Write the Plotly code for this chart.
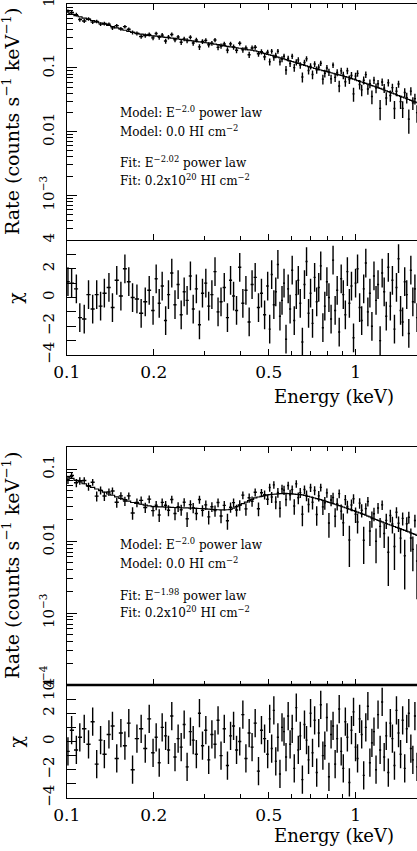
import numpy as np
import plotly.graph_objects as go

# ---------------- data ----------------
energy_kev = [
    0.101, 0.104, 0.108, 0.111, 0.115, 0.119, 0.123, 0.127, 0.131, 0.135,
    0.140, 0.144, 0.149, 0.154, 0.159, 0.164, 0.169, 0.175, 0.181, 0.187,
    0.193, 0.199, 0.204, 0.209, 0.214, 0.220, 0.225, 0.231, 0.237, 0.243,
    0.249, 0.255, 0.261, 0.268, 0.274, 0.281, 0.288, 0.295, 0.303, 0.310,
    0.318, 0.326, 0.334, 0.342, 0.351, 0.360, 0.369, 0.378, 0.387, 0.397,
    0.407, 0.417, 0.428, 0.438, 0.449, 0.461, 0.472, 0.484, 0.496, 0.504,
    0.512, 0.521, 0.529, 0.538, 0.547, 0.556, 0.565, 0.574, 0.584, 0.593,
    0.603, 0.613, 0.623, 0.633, 0.643, 0.654, 0.665, 0.676, 0.687, 0.698,
    0.709, 0.721, 0.733, 0.745, 0.757, 0.770, 0.782, 0.795, 0.808, 0.822,
    0.835, 0.849, 0.863, 0.877, 0.891, 0.906, 0.921, 0.936, 0.951, 0.967,
    0.983, 0.999, 1.015, 1.032, 1.049, 1.066, 1.084, 1.102, 1.120, 1.138,
    1.157, 1.176, 1.195, 1.215, 1.235, 1.255, 1.276, 1.297, 1.318, 1.340,
    1.362, 1.384, 1.407, 1.430, 1.454, 1.478, 1.502, 1.527, 1.552, 1.577,
    1.603, 1.630, 1.656, 1.684,
]

# top spectrum: model rate (counts s^-1 keV^-1), fractional 1-sigma error, chi residual
model_rate_1 = [
    0.720, 0.692, 0.658, 0.634, 0.604, 0.577, 0.551, 0.528, 0.506, 0.486,
    0.462, 0.445, 0.425, 0.407, 0.389, 0.374, 0.361, 0.349, 0.339, 0.330,
    0.323, 0.317, 0.314, 0.311, 0.307, 0.302, 0.298, 0.293, 0.288, 0.284,
    0.280, 0.276, 0.272, 0.268, 0.264, 0.260, 0.256, 0.253, 0.248, 0.244,
    0.239, 0.235, 0.231, 0.227, 0.223, 0.218, 0.214, 0.211, 0.207, 0.203,
    0.199, 0.196, 0.192, 0.189, 0.185, 0.179, 0.174, 0.169, 0.163, 0.160,
    0.1567, 0.1533, 0.1503, 0.1471, 0.1440, 0.1408, 0.1377, 0.1347, 0.1315, 0.1287,
    0.1258, 0.1229, 0.1202, 0.1175, 0.1150, 0.1123, 0.1097, 0.1073, 0.1049, 0.1026,
    0.1004, 0.0983, 0.0964, 0.0945, 0.0927, 0.0908, 0.0891, 0.0874, 0.0857, 0.0839,
    0.0823, 0.0807, 0.0791, 0.0776, 0.0761, 0.0746, 0.0731, 0.0716, 0.0699, 0.0681,
    0.0664, 0.0647, 0.0631, 0.0615, 0.0600, 0.0585, 0.0570, 0.0555, 0.0541, 0.0528,
    0.0515, 0.0502, 0.0489, 0.0476, 0.0463, 0.0450, 0.0437, 0.0425, 0.0413, 0.0401,
    0.0390, 0.0379, 0.0368, 0.0358, 0.0347, 0.0337, 0.0328, 0.0319, 0.0310, 0.0301,
    0.0292, 0.0284, 0.0276, 0.0268,
]
rel_err_1 = [
    0.070, 0.070, 0.068, 0.068, 0.066, 0.066, 0.065, 0.065, 0.065, 0.066,
    0.066, 0.067, 0.068, 0.069, 0.070, 0.071, 0.072, 0.073, 0.074, 0.075,
    0.076, 0.077, 0.078, 0.079, 0.080, 0.080, 0.081, 0.082, 0.083, 0.083,
    0.084, 0.085, 0.085, 0.086, 0.087, 0.087, 0.088, 0.089, 0.089, 0.090,
    0.090, 0.091, 0.091, 0.092, 0.092, 0.093, 0.093, 0.094, 0.094, 0.095,
    0.095, 0.096, 0.096, 0.097, 0.097, 0.098, 0.098, 0.099, 0.100, 0.100,
    0.101, 0.102, 0.103, 0.104, 0.105, 0.106, 0.107, 0.108, 0.109, 0.110,
    0.111, 0.112, 0.113, 0.114, 0.115, 0.116, 0.117, 0.118, 0.119, 0.120,
    0.121, 0.122, 0.123, 0.124, 0.125, 0.127, 0.128, 0.129, 0.130, 0.132,
    0.133, 0.134, 0.136, 0.137, 0.138, 0.140, 0.141, 0.143, 0.144, 0.146,
    0.147, 0.149, 0.150, 0.152, 0.154, 0.155, 0.157, 0.159, 0.161, 0.163,
    0.165, 0.167, 0.169, 0.171, 0.173, 0.175, 0.177, 0.179, 0.181, 0.184,
    0.186, 0.188, 0.191, 0.193, 0.196, 0.198, 0.201, 0.203, 0.206, 0.209,
    0.212, 0.215, 0.218, 0.221,
]
chi_1 = [
    1.1, 1.0, 0.6, -1.4, -1.5, 0.2, -0.8, 0.2, -0.6, 0.3,
    0.7, -0.7, 1.2, 0.1, 2.0, 1.1, 0.0, -0.1, -1.1, -0.3,
    0.5, -0.9, 1.3, -0.4, 0.8, -1.6, 0.2, 1.7, -0.5, 0.9,
    -1.2, 0.4, -0.2, 1.5, -0.8, 0.6, -1.9, 0.3, 1.0, -0.6,
    0.2, 1.8, -1.0, -0.3, 0.7, -1.4, 1.2, 0.1, -0.9, 2.1,
    -0.4, 0.5, -1.7, 0.9, 1.4, -0.7, 0.3, -1.2, 0.8, -2.2,
    1.6, -0.5, 0.4, 2.3, -1.3, -0.2, 1.0, -2.9, 0.6, -0.8,
    1.9, -1.6, 0.2, 1.2, -0.4, -3.1, 0.9, 2.5, -1.1, 0.3,
    -1.8, 1.4, -0.3, 0.7, 2.2, -2.1, -0.6, 1.1, 0.0, -1.5,
    2.6, -0.9, 0.5, -2.4, 1.3, 0.2, -1.2, 1.8, -0.4, 0.8,
    -2.8, 1.0, 2.0, -0.7, -1.6, 0.6, 2.4, -1.0, 0.3, -2.0,
    1.5, -0.2, 0.9, -3.0, 1.7, 0.4, -1.3, 2.1, -0.6, 1.2,
    -2.2, 0.7, 2.7, -0.9, -1.7, 1.1, 0.2, -2.5, 1.9, -0.3,
    0.6, -1.4, 2.2, -0.8,
]

# bottom spectrum
model_rate_2 = [
    0.0780, 0.0742, 0.0695, 0.0663, 0.0624, 0.0588, 0.0557, 0.0528, 0.0502, 0.0477,
    0.0450, 0.0432, 0.0411, 0.0392, 0.0375, 0.0358, 0.0343, 0.0333, 0.0324, 0.0316,
    0.0308, 0.0301, 0.0300, 0.0299, 0.0298, 0.0296, 0.0295, 0.0294, 0.0292, 0.0291,
    0.0290, 0.0289, 0.0288, 0.0287, 0.0286, 0.0284, 0.0283, 0.0281, 0.0280, 0.0278,
    0.0276, 0.0274, 0.0272, 0.0270, 0.0270, 0.0272, 0.0275, 0.0287, 0.0300, 0.0316,
    0.0331, 0.0346, 0.0364, 0.0380, 0.0398, 0.0409, 0.0418, 0.0427, 0.0437, 0.0441,
    0.0444, 0.0446, 0.0448, 0.0451, 0.0454, 0.0456, 0.0458, 0.0460, 0.0456, 0.0454,
    0.0451, 0.0448, 0.0445, 0.0443, 0.0441, 0.0437, 0.0430, 0.0422, 0.0416, 0.0409,
    0.0402, 0.0396, 0.0389, 0.0382, 0.0375, 0.0367, 0.0360, 0.0352, 0.0345, 0.0338,
    0.0331, 0.0324, 0.0317, 0.0310, 0.0304, 0.0297, 0.0290, 0.0284, 0.0277, 0.0270,
    0.0264, 0.0258, 0.0252, 0.0246, 0.0240, 0.0234, 0.0228, 0.0222, 0.0216, 0.0210,
    0.0204, 0.0199, 0.0194, 0.0189, 0.0184, 0.0179, 0.0175, 0.0171, 0.0167, 0.0163,
    0.0159, 0.0155, 0.0151, 0.0148, 0.0144, 0.0141, 0.0137, 0.0134, 0.0130, 0.0127,
    0.0124, 0.0120, 0.0118, 0.0115,
]
rel_err_2 = [
    0.120, 0.121, 0.122, 0.123, 0.124, 0.125, 0.126, 0.127, 0.128, 0.129,
    0.130, 0.132, 0.134, 0.136, 0.138, 0.140, 0.142, 0.144, 0.146, 0.148,
    0.150, 0.152, 0.153, 0.154, 0.155, 0.156, 0.157, 0.158, 0.159, 0.160,
    0.161, 0.162, 0.163, 0.164, 0.165, 0.166, 0.167, 0.168, 0.169, 0.170,
    0.171, 0.172, 0.173, 0.174, 0.175, 0.175, 0.174, 0.172, 0.169, 0.166,
    0.163, 0.160, 0.157, 0.154, 0.151, 0.149, 0.147, 0.146, 0.145, 0.160,
    0.160, 0.160, 0.160, 0.160, 0.161, 0.161, 0.162, 0.162, 0.163, 0.164,
    0.165, 0.166, 0.167, 0.168, 0.169, 0.171, 0.172, 0.174, 0.175, 0.177,
    0.178, 0.180, 0.182, 0.184, 0.186, 0.188, 0.190, 0.192, 0.194, 0.196,
    0.198, 0.200, 0.202, 0.204, 0.206, 0.209, 0.211, 0.213, 0.216, 0.218,
    0.221, 0.223, 0.226, 0.228, 0.231, 0.234, 0.236, 0.239, 0.242, 0.245,
    0.248, 0.251, 0.254, 0.257, 0.260, 0.263, 0.266, 0.269, 0.272, 0.275,
    0.278, 0.281, 0.284, 0.287, 0.290, 0.293, 0.296, 0.299, 0.302, 0.305,
    0.308, 0.311, 0.314, 0.317,
]
chi_2 = [
    -0.7, 0.8, -0.6, 0.3, 0.9, -0.2, 1.4, -1.6, 0.1, -0.9,
    0.5, 1.1, -1.2, 0.6, -0.3, 1.3, -2.0, 0.2, 0.9, -0.5,
    1.6, -0.8, 0.3, -1.5, 1.0, 0.4, -0.6, 1.8, -1.1, 0.2,
    -0.4, 1.2, -1.8, 0.7, 0.1, -0.9, 2.0, -0.3, 0.8, -1.3,
    0.5, -0.2, 1.5, -1.0, 0.9, -1.7, 0.4, 1.1, -0.6, 0.0,
    1.9, -1.2, 0.6, -0.4, 1.3, -2.1, 0.8, 0.2, -0.9, 1.6,
    -0.5, 2.2, -1.4, 0.3, -2.3, 1.0, 0.7, -1.1, 1.8, -0.2,
    0.9, -1.9, 2.4, -0.6, 0.4, -2.7, 1.2, 0.1, -1.3, 2.0,
    -0.8, 1.5, -2.2, 0.6, 2.6, -1.0, -0.3, 1.7, -2.5, 0.5,
    1.1, -1.6, 0.2, 2.3, -0.7, -1.9, 1.4, 0.3, -2.9, 0.8,
    2.1, -0.4, -1.2, 1.6, 0.5, -2.4, 1.0, 2.5, -1.5, -0.1,
    0.7, -2.0, 1.9, -0.6, 2.8, -1.1, 0.4, -2.2, 1.3, 0.2,
    -1.7, 2.2, 0.6, -0.9, 1.5, -1.9, 0.9, 2.0, -0.5, -1.3,
    1.8, -1.8, 0.4, 1.1,
]

for arr in (model_rate_1, rel_err_1, chi_1, model_rate_2, rel_err_2, chi_2):
    assert len(arr) == len(energy_kev), (len(arr), len(energy_kev))

x_tick_vals = [0.1, 0.2, 0.5, 1]
x_tick_text = ["0.1", "0.2", "0.5", "1"]
x_minor_vals = [0.3, 0.4, 0.6, 0.7, 0.8, 0.9]
y1_tick_vals = [1, 0.1, 0.01, 0.001]
y1_tick_text = ["1", "0.1", "0.01", "10<sup>\u22123</sup>"]
y2_tick_vals = [0.1, 0.01, 0.001, 0.0001]
y2_tick_text = ["0.1", "0.01", "10<sup>\u22123</sup>", "10<sup>\u22124</sup>"]
chi_tick_vals = [-4, -2, 0, 2, 4]
chi_tick_text = ["\u22124", "\u22122", "0", "2", "4"]
chi_minor_vals = [-3, -1, 1, 3]

labels_1 = ["Model: E<sup>\u22122.0</sup> power law",
            "Model: 0.0 HI cm<sup>\u22122</sup>",
            "Fit: E<sup>\u22122.02</sup> power law",
            "Fit: 0.2x10<sup>20</sup> HI cm<sup>\u22122</sup>"]
labels_2 = ["Model: E<sup>\u22122.0</sup> power law",
            "Model: 0.0 HI cm<sup>\u22122</sup>",
            "Fit: E<sup>\u22121.98</sup> power law",
            "Fit: 0.2x10<sup>20</sup> HI cm<sup>\u22122</sup>"]

# ---------------- derived quantities ----------------
E = np.array(energy_kev)
edges = np.sqrt(E[1:] * E[:-1])
lo_edge = np.concatenate([[E[0] ** 2 / edges[0]], edges])
hi_edge = np.concatenate([edges, [E[-1] ** 2 / edges[-1]]])
xerr_minus = E - lo_edge
xerr_plus = hi_edge - E

W, H = 417, 851
FONT = "DejaVu Serif"


def ydom(top_px, bot_px):
    return [1 - bot_px / H, 1 - top_px / H]


X0 = 66.7 / W
panels = {
    "c1_main": ydom(4, 240),
    "c1_res": ydom(240, 355),
    "c2_main": ydom(447, 685),
    "c2_res": ydom(685, 798),
}

fig = go.Figure()


def add_spectrum(model, rel, chi, xa_main, ya_main, xa_res, ya_res):
    model = np.array(model)
    rel = np.array(rel)
    chi = np.array(chi)
    sigma = model * rel
    rate = model + chi * sigma   # chi = (rate - model) / sigma
    ebar = dict(color="black", thickness=1.4, width=0)
    fig.add_trace(go.Scatter(
        x=E, y=rate, mode="markers", marker=dict(size=1, color="black"),
        error_y=dict(type="data", array=sigma, **ebar),
        error_x=dict(type="data", symmetric=False, array=xerr_plus,
                     arrayminus=xerr_minus, **ebar),
        xaxis=xa_main, yaxis=ya_main, showlegend=False, hoverinfo="skip"))
    fig.add_trace(go.Scatter(
        x=E, y=model, mode="lines", line=dict(color="black", width=1.2, shape="hvh"),
        xaxis=xa_main, yaxis=ya_main, showlegend=False, hoverinfo="skip"))
    fig.add_trace(go.Scatter(
        x=E, y=chi, mode="markers", marker=dict(size=1, color="black"),
        error_y=dict(type="constant", value=1, **ebar),
        error_x=dict(type="data", symmetric=False, array=xerr_plus,
                     arrayminus=xerr_minus, **ebar),
        xaxis=xa_res, yaxis=ya_res, showlegend=False, hoverinfo="skip"))


add_spectrum(model_rate_1, rel_err_1, chi_1, "x", "y", "x2", "y2")
add_spectrum(model_rate_2, rel_err_2, chi_2, "x3", "y3", "x4", "y4")

tickfont = dict(family=FONT, size=15, color="black")
xrange = [-1, np.log10(1.63)]


def xaxis(anchor, labels, mirror):
    return dict(
        type="log", range=xrange, domain=[X0, 1], anchor=anchor, automargin=False,
        showline=True, linecolor="black", linewidth=1, mirror=mirror,
        ticks="inside", ticklen=6, tickwidth=1, tickcolor="black",
        tickmode="array", tickvals=x_tick_vals, ticktext=x_tick_text,
        showticklabels=labels, tickfont=dict(family=FONT, size=17, color="black"),
        ticklabelstandoff=2, ticklabeloverflow="allow",
        minor=dict(tickmode="array", tickvals=x_minor_vals, ticks="inside",
                   ticklen=4, tickwidth=1, tickcolor="black", showgrid=False),
        showgrid=False, zeroline=False)


log_minor = [m * 10.0 ** d for d in range(-5, 1) for m in range(2, 10)]


def ylog(anchor, dom, rng, vals, text):
    return dict(
        type="log", range=rng, domain=dom, anchor=anchor, automargin=False,
        showline=True, linecolor="black", linewidth=1, mirror=False,
        ticks="inside", ticklen=10, tickwidth=1, tickcolor="black",
        tickmode="array", tickvals=vals, ticktext=text, tickangle=-90,
        tickfont=tickfont, ticklabelstandoff=6, ticklabeloverflow="allow",
        minor=dict(tickmode="array", tickvals=log_minor, ticks="inside",
                   ticklen=6, tickwidth=1, tickcolor="black", showgrid=False),
        showgrid=False, zeroline=False)


def ychi(anchor, dom):
    return dict(
        range=[-4, 4], domain=dom, anchor=anchor, automargin=False,
        showline=True, linecolor="black", linewidth=1, mirror=False,
        ticks="inside", ticklen=9, tickwidth=1, tickcolor="black",
        tickmode="array", tickvals=chi_tick_vals, ticktext=chi_tick_text,
        tickangle=-90, tickfont=tickfont, ticklabelstandoff=6,
        ticklabeloverflow="allow",
        minor=dict(tickmode="array", tickvals=chi_minor_vals, ticks="inside",
                   ticklen=9, tickwidth=1, tickcolor="black", showgrid=False),
        showgrid=False, zeroline=False)


fig.update_layout(
    width=W, height=H, margin=dict(l=0, r=0, t=0, b=0, autoexpand=False),
    paper_bgcolor="white", plot_bgcolor="white",
    xaxis=xaxis("y", False, "ticks"),
    xaxis2=xaxis("y2", True, False),
    xaxis3=xaxis("y3", False, "ticks"),
    xaxis4=xaxis("y4", True, False),
    yaxis=ylog("x", panels["c1_main"], [-3.70, 0.002], y1_tick_vals, y1_tick_text),
    yaxis2=ychi("x2", panels["c1_res"]),
    yaxis3=ylog("x3", panels["c2_main"], [-4.0, -0.694], y2_tick_vals, y2_tick_text),
    yaxis4=ychi("x4", panels["c2_res"]),
)

ann = []


def paper(xpx, ypx):
    return xpx / W, 1 - ypx / H


for (ytitle_c, chi_c, elabel_y, text_ys, labels) in [
        (122, 297.7, 397, [112, 131, 162, 180], labels_1),
        (566, 741.5, 835, [544, 563, 595, 612], labels_2)]:
    x, y = paper(11, ytitle_c)
    ann.append(dict(x=x, y=y, xref="paper", yref="paper", showarrow=False,
                    text="Rate (counts s<sup>\u22121</sup> keV<sup>\u22121</sup>)",
                    textangle=-90, font=dict(family=FONT, size=19, color="black"),
                    xanchor="center", yanchor="middle"))
    x, y = paper(15, chi_c)
    ann.append(dict(x=x, y=y, xref="paper", yref="paper", showarrow=False,
                    text="\u03c7", textangle=-90,
                    font=dict(family=FONT, size=19, color="black"),
                    xanchor="center", yanchor="middle"))
    x, y = paper(334, elabel_y)
    ann.append(dict(x=x, y=y, xref="paper", yref="paper", showarrow=False,
                    text="Energy (keV)", font=dict(family=FONT, size=18, color="black"),
                    xanchor="center", yanchor="middle"))
    for ty, t in zip(text_ys, labels):
        x, y = paper(118, ty)
        ann.append(dict(x=x, y=y, xref="paper", yref="paper", showarrow=False,
                        text=t, font=dict(family=FONT, size=12, color="black"),
                        xanchor="left", yanchor="middle"))

fig.update_layout(annotations=ann)

# thicker divider under the lower spectrum panel
fig.add_shape(type="line", xref="x3 domain", yref="y3 domain",
              x0=0, x1=1, y0=0, y1=0, line=dict(color="black", width=2.5))

fig.write_html("out.html",
               config={"displayModeBar": False, "staticPlot": True},
               post_script="document.body.style.margin='0px';"
                           "document.body.style.overflow='hidden';")
